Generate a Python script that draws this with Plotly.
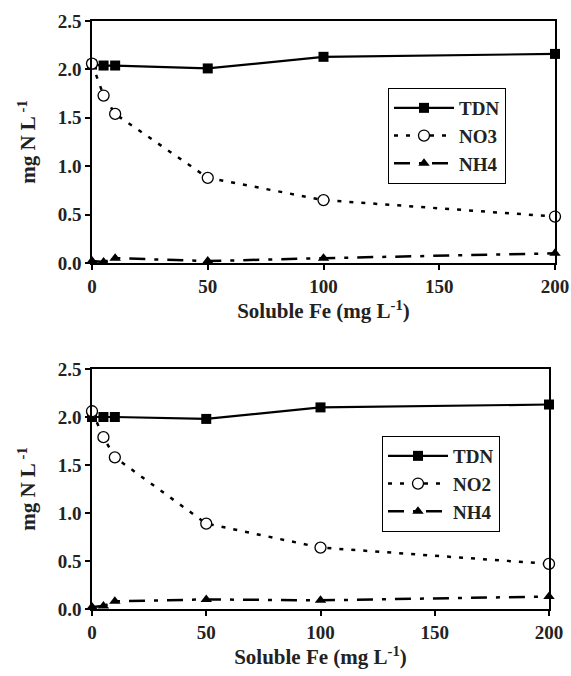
import plotly.graph_objects as go

fe = [0, 5, 10, 50, 100, 200]

# Top panel
tdn_top = [2.05, 2.04, 2.04, 2.01, 2.13, 2.16]
no3_top = [2.06, 1.73, 1.54, 0.88, 0.65, 0.48]
nh4_top = [0.02, 0.01, 0.05, 0.02, 0.05, 0.10]

# Bottom panel
tdn_bot = [2.00, 2.00, 2.00, 1.98, 2.10, 2.13]
no2_bot = [2.06, 1.79, 1.58, 0.89, 0.64, 0.47]
nh4_bot = [0.02, 0.03, 0.08, 0.10, 0.09, 0.13]

y_ticks = [0.0, 0.5, 1.0, 1.5, 2.0, 2.5]
x_ticks = [0, 50, 100, 150, 200]

FONT = "Liberation Serif"
W, H = 571, 676

fig = go.Figure()

def add_panel(xa, ya, legend, tdn, no, nh, no_name):
    fig.add_trace(go.Scatter(x=fe, y=tdn, name="<b>TDN</b>", mode="lines+markers",
        line=dict(color="black", width=2.2),
        marker=dict(symbol="square", size=10, color="black"),
        xaxis=xa, yaxis=ya, legend=legend, cliponaxis=False))
    fig.add_trace(go.Scatter(x=fe, y=no, name="<b>" + no_name + "</b>", mode="lines+markers",
        line=dict(color="black", width=2.5, dash="4px,8px"),
        marker=dict(symbol="circle", size=11, color="white",
                    line=dict(width=1.3, color="black")),
        xaxis=xa, yaxis=ya, legend=legend, cliponaxis=False))
    fig.add_trace(go.Scatter(x=fe, y=nh, name="<b>NH4</b>", mode="lines+markers",
        line=dict(color="black", width=2.5, dash="16px,9px,4px,9px"),
        marker=dict(symbol="triangle-up", size=10, color="black"),
        xaxis=xa, yaxis=ya, legend=legend, cliponaxis=False))

add_panel("x", "y", "legend", tdn_top, no3_top, nh4_top, "NO3")
add_panel("x2", "y2", "legend2", tdn_bot, no2_bot, nh4_bot, "NO2")

def px_x(p):
    return p / W

def px_y(p):
    return (H - p) / H

axis_common = dict(showline=True, linecolor="black", linewidth=1.5, mirror=True,
                   ticks="outside", ticklen=5, tickcolor="black", tickwidth=1.5,
                   showgrid=False, zeroline=False, automargin=False,
                   tickfont=dict(family=FONT, size=19, color="#222"))

x_ticktext = ["<b>%d</b>" % v for v in x_ticks]
y_ticktext = ["<b>%.1f</b>" % v for v in y_ticks]

xtitle = dict(text="<b>Soluble Fe (mg L<sup>-1</sup>)</b>",
              font=dict(family=FONT, size=21, color="#222"), standoff=4)
ytitle = dict(text="<b>mg N L<sup> -1</sup></b>",
              font=dict(family=FONT, size=21, color="#222"), standoff=16)

leg_font = dict(family=FONT, size=19, color="#222")

fig.update_layout(
    width=W, height=H,
    margin=dict(l=0, r=0, t=0, b=0, autoexpand=False),
    paper_bgcolor="white", plot_bgcolor="white",
    font=dict(family=FONT, color="#222"),
    xaxis=dict(domain=[px_x(92), px_x(555)], range=[0, 200], tickvals=x_ticks,
               ticktext=x_ticktext, anchor="y", title=xtitle, **axis_common),
    yaxis=dict(domain=[px_y(263), px_y(21)], range=[0, 2.5], tickvals=y_ticks,
               ticktext=y_ticktext, anchor="x", title=ytitle, **axis_common),
    xaxis2=dict(domain=[px_x(92), px_x(549)], range=[0, 200], tickvals=x_ticks,
                ticktext=x_ticktext, anchor="y2", title=xtitle, **axis_common),
    yaxis2=dict(domain=[px_y(609), px_y(369)], range=[0, 2.5], tickvals=y_ticks,
                ticktext=y_ticktext, anchor="x2", title=ytitle, **axis_common),
    legend=dict(x=px_x(388), y=px_y(88), xanchor="left", yanchor="top",
                bordercolor="black", borderwidth=1, bgcolor="white",
                font=leg_font, itemwidth=60, tracegroupgap=0),
    legend2=dict(x=px_x(382), y=px_y(436), xanchor="left", yanchor="top",
                 bordercolor="black", borderwidth=1, bgcolor="white",
                 font=leg_font, itemwidth=60, tracegroupgap=0),
    showlegend=True,
)

fig.write_html("out.html", config={"displayModeBar": False},
               post_script="document.body.style.margin='0';document.body.style.overflow='hidden';")
